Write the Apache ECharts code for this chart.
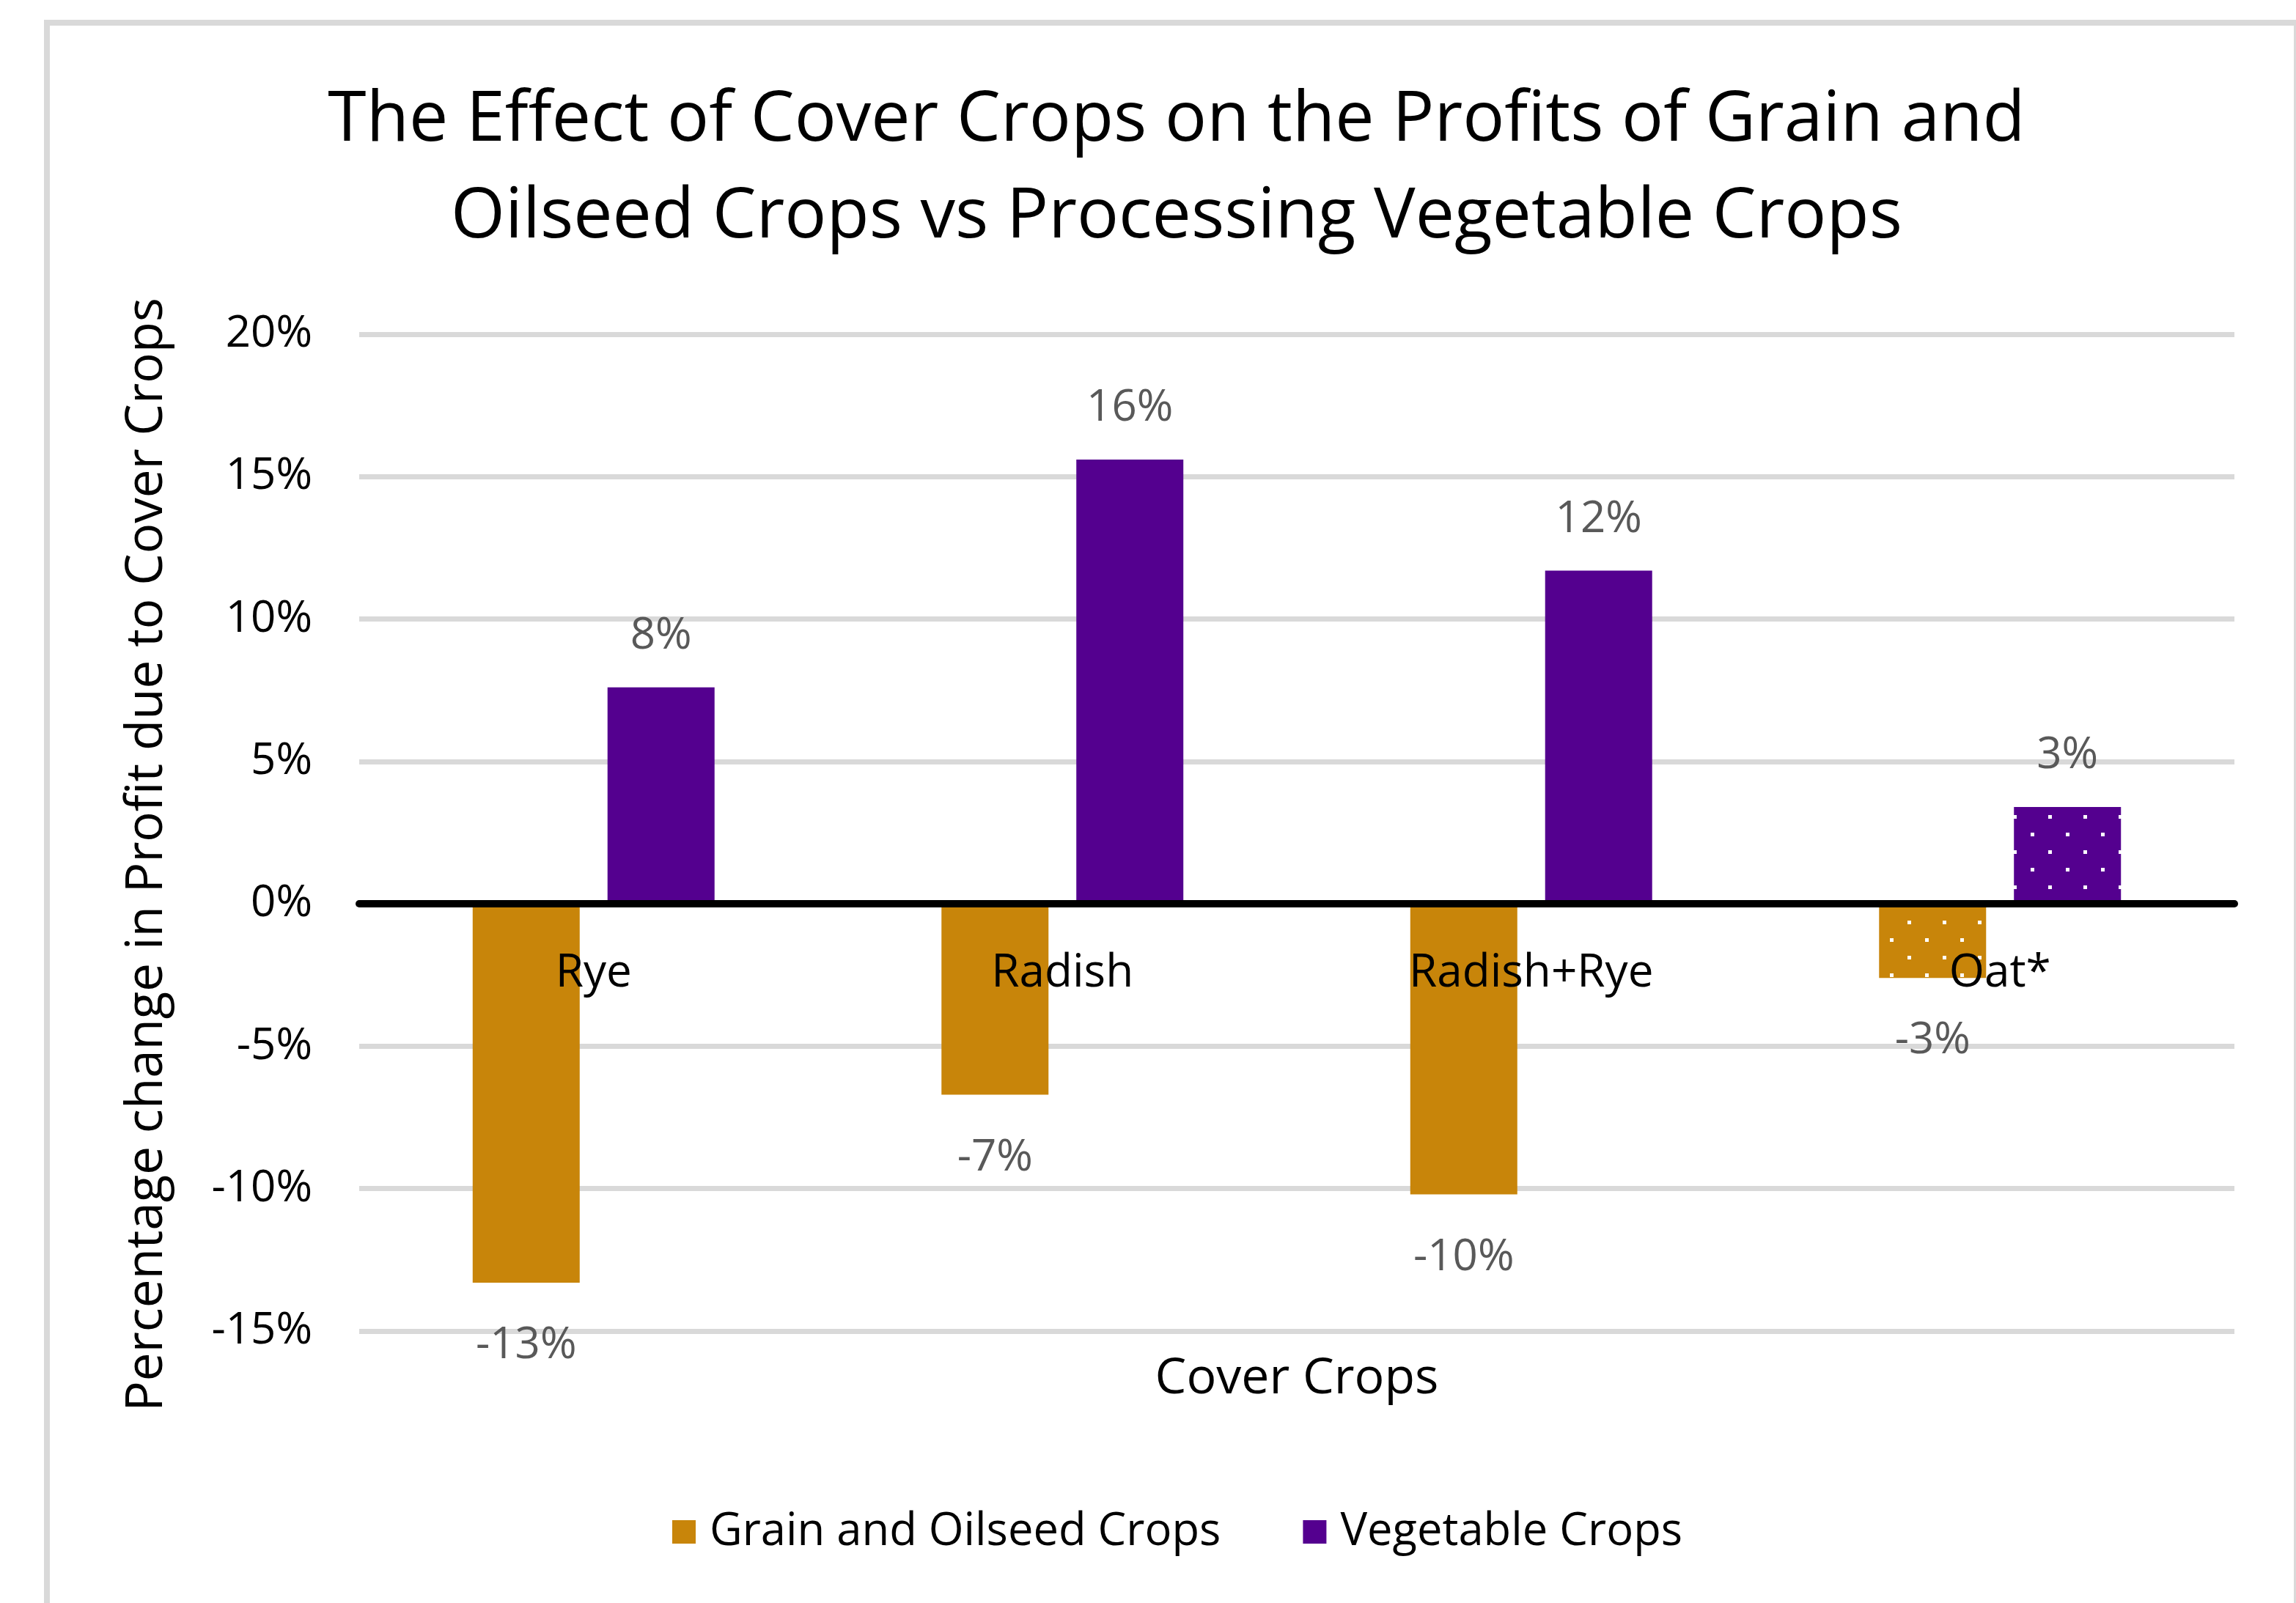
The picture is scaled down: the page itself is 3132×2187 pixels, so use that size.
<!DOCTYPE html>
<html>
<head>
<meta charset="utf-8">
<script src="https://cdn.jsdelivr.net/npm/echarts@6/dist/echarts.min.js"></script>
<style>
  html, body { margin: 0; padding: 0; background: #fff; }
  #chart { width: 3132px; height: 2187px; }
</style>
</head>
<body>
<div id="chart"></div>
<script>
// values
var categories = ['Rye', 'Radish', 'Radish+Rye', 'Oat*'];
var grainValues = [-13.3, -6.7, -10.2, -2.6];
var vegValues = [7.6, 15.6, 11.7, 3.4];
var seriesNames = ['Grain and Oilseed Crops', 'Vegetable Crops'];

var grainColor = '#C8850A';
var vegColor = '#54008F';
var fontFamily = '"Open Sans", "Noto Sans", sans-serif';

// grid box, the category axis is moved up to the 0% line with offset
var gridTop = 456, gridHeight = 1360, yMin = -15, yMax = 20;
var zeroOffset = -gridHeight * (0 - yMin) / (yMax - yMin);

// dotted pattern used for the Oat* bars
function dotPattern(color) {
  var c = document.createElement('canvas');
  c.width = 48;
  c.height = 48;
  var ctx = c.getContext('2d');
  ctx.fillStyle = color;
  ctx.fillRect(0, 0, 48, 48);
  ctx.fillStyle = '#ffffff';
  ctx.fillRect(10, 8, 5, 5);
  ctx.fillRect(34, 32, 5, 5);
  return c;
}

function buildData(values, color) {
  return values.map(function (v, i) {
    if (categories[i] === 'Oat*') {
      return {value: v, itemStyle: {color: {image: dotPattern(color), repeat: 'repeat'}}};
    }
    return v;
  });
}

var myChart = echarts.init(document.getElementById('chart'));
var option = {
  backgroundColor: '#fff',
  animation: false,
  textStyle: {fontFamily: fontFamily},
  title: {
    text: 'The Effect of Cover Crops on the Profits of Grain and\nOilseed Crops vs Processing Vegetable Crops',
    left: 1600,
    top: 94,
    textAlign: 'center',
    textStyle: {
      fontFamily: fontFamily,
      fontSize: 95,
      fontWeight: 'normal',
      color: '#000',
      lineHeight: 132
    }
  },
  legend: {
    left: 912,
    top: 2054,
    itemWidth: 32,
    itemHeight: 32,
    itemGap: 112,
    icon: 'rect',
    textStyle: {
      fontFamily: fontFamily,
      fontSize: 61.5,
      color: '#000',
      padding: [0, 0, 0, 14]
    },
    data: seriesNames
  },
  graphic: [{
    type: 'rect',
    shape: {x: 64, y: 31, width: 3069, height: 2200},
    style: {fill: 'none', stroke: '#d9d9d9', lineWidth: 8},
    silent: true
  }],
  grid: {left: 490, top: gridTop, width: 2558, height: gridHeight},
  xAxis: [{
    type: 'category',
    data: categories,
    offset: zeroOffset,
    axisLine: {onZero: false, lineStyle: {color: '#000', width: 10}},
    axisTick: {show: false},
    axisLabel: {
      fontFamily: fontFamily,
      fontSize: 62,
      color: '#000',
      margin: 64
    },
    z: 5
  }, {
    type: 'category',
    position: 'bottom',
    data: categories,
    axisLine: {show: false},
    axisTick: {show: false},
    axisLabel: {show: false},
    name: 'Cover Crops',
    nameLocation: 'middle',
    nameGap: 32,
    nameTextStyle: {fontFamily: fontFamily, fontSize: 68, color: '#000', verticalAlign: 'top'}
  }],
  yAxis: {
    type: 'value',
    min: yMin,
    max: yMax,
    interval: 5,
    name: 'Percentage change in Profit due to Cover Crops',
    nameLocation: 'middle',
    nameGap: 254,
    nameTextStyle: {fontFamily: fontFamily, fontSize: 69, color: '#000', padding: [0, 60, 0, 0]},
    axisLine: {show: false},
    axisTick: {show: false},
    axisLabel: {
      formatter: '{value}%',
      fontFamily: fontFamily,
      fontSize: 60,
      color: '#000',
      margin: 64
    },
    splitLine: {lineStyle: {color: '#d9d9d9', width: 7}}
  },
  series: [{
    name: seriesNames[0],
    type: 'bar',
    barWidth: 146,
    barGap: '26%',
    itemStyle: {color: grainColor},
    label: {
      show: true,
      position: 'bottom',
      distance: 56,
      fontFamily: fontFamily,
      fontSize: 60,
      color: '#595959',
      formatter: function (p) { return Math.round(p.value) + '%'; }
    },
    data: buildData(grainValues, grainColor)
  }, {
    name: seriesNames[1],
    type: 'bar',
    barWidth: 146,
    barGap: '26%',
    itemStyle: {color: vegColor},
    label: {
      show: true,
      position: 'top',
      distance: 40,
      fontFamily: fontFamily,
      fontSize: 60,
      color: '#595959',
      formatter: function (p) { return Math.round(p.value) + '%'; }
    },
    data: buildData(vegValues, vegColor)
  }]
};
myChart.setOption(option);
</script>
</body>
</html>
